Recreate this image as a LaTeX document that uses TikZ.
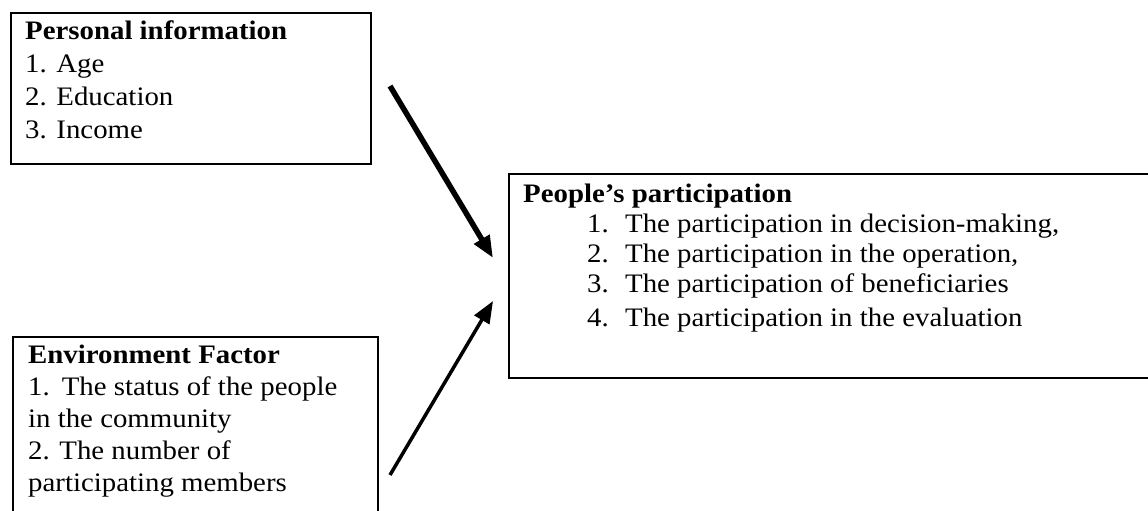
\documentclass[tikz,border=0pt]{standalone}
\usepackage{fontspec}
\setmainfont{Liberation Serif}[FakeStretch=1.08]
\usetikzlibrary{arrows.meta}
\begin{document}
\begin{tikzpicture}[x=1pt,y=-1pt,
  box/.style={draw, line width=2pt, inner sep=0pt, anchor=north west},
  txt/.style={anchor=base west, inner sep=0pt, font=\fontsize{26.7}{32}\selectfont},
  hd/.style={txt, font=\fontsize{26.7}{32}\selectfont\bfseries},
  arr/.style={-{Triangle[length=22pt,width=17pt]}}]
\useasboundingbox (0,0) rectangle (1148,511);
% boxes
\node[box, minimum width=360pt, minimum height=151pt] (personal) at (10,12) {};
\node[box, minimum width=365pt, minimum height=190pt] (environment) at (12,336) {};
\node[box, minimum width=650pt, minimum height=204pt] (participation) at (508,173) {};
% texts: personal information
\node[hd] (pt) at (25,40) {Personal information};
\node[txt] (p1) at (25,72.5) {1. Age};
\node[txt] (p2) at (25,105.5) {2. Education};
\node[txt] (p3) at (25,138) {3. Income};
% texts: environment factor
\node[hd] (et) at (28,363) {Environment Factor};
\node[txt] (e1) at (28,395) {1.\hspace{12pt}The status of the people};
\node[txt] (e2) at (28,427) {in the community};
\node[txt] (e3) at (28,459) {2. The number of};
\node[txt] (e4) at (28,491) {participating members};
% texts: people's participation
\node[hd] (qt) at (523,202) {People’s participation};
\node[txt] (q1) at (587,232) {\makebox[38pt][l]{1.}The participation in decision-making,};
\node[txt] (q2) at (587,262) {\makebox[38pt][l]{2.}The participation in the operation,};
\node[txt] (q3) at (587,292) {\makebox[38pt][l]{3.}The participation of beneficiaries};
\node[txt] (q4) at (587,326) {\makebox[38pt][l]{4.}The participation in the evaluation};
% arrows
\coordinate (a1s) at (390,86);
\coordinate (a1e) at (493,258);
\coordinate (a2s) at (390,475);
\coordinate (a2e) at (493,301);
\draw[arr, line width=5.5pt] (a1s) -- (a1e);
\draw[arr, line width=3.5pt] (a2s) -- (a2e);
\end{tikzpicture}
\end{document}
